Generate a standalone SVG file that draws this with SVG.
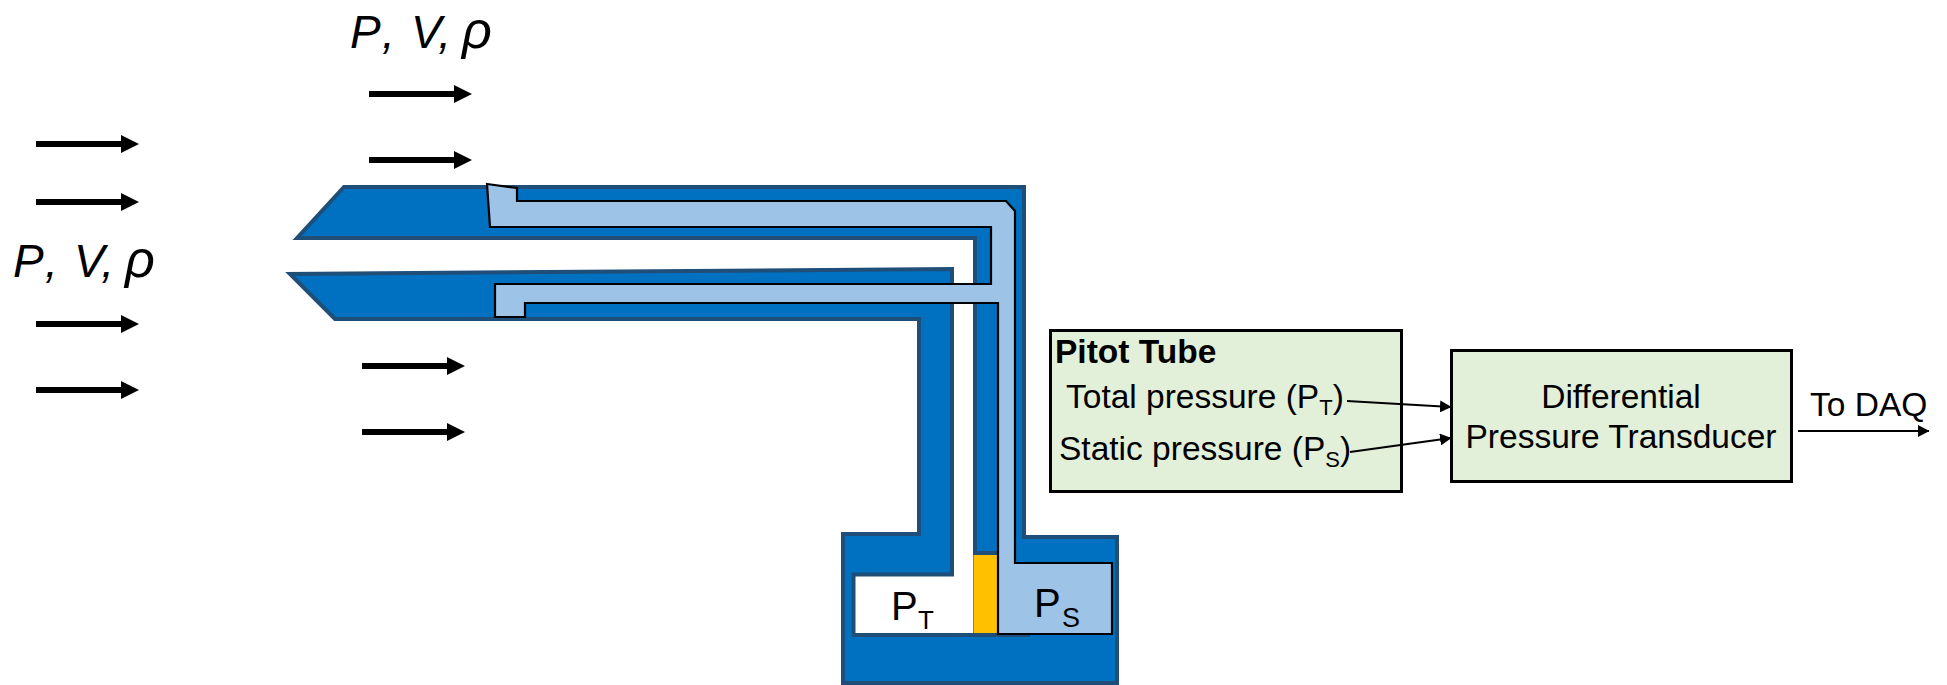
<svg xmlns="http://www.w3.org/2000/svg" width="1947" height="685" viewBox="0 0 1947 685">
<defs>
<style>
text{font-family:"Liberation Sans",Arial,sans-serif;fill:#000}
.flow{font-family:"Liberation Sans",Arial,sans-serif;font-style:italic;font-size:46px}
.rho{font-size:52px}
.lab{font-size:33.500px}
.box{fill:#E2F0D9;stroke:#000;stroke-width:3}
.body{fill:#0070C0;stroke:#1F4E79;stroke-width:4}
.wire{fill:none;stroke:#000;stroke-width:2.2;marker-end:url(#tip)}
</style>
<marker id="tip" markerUnits="userSpaceOnUse" markerWidth="12" markerHeight="12" refX="11" refY="6" orient="auto"><path d="M0 0L11.500 6L0 12Z" fill="#000"/></marker>
<path id="block" d="M0 -3H85V-9L103 0L85 9V3H0Z" fill="#000"/>
</defs>
<rect width="1947" height="685" fill="#fff"/>
<g id="probe">
<polygon class="body" points="297,238 344,187 1024,187 1024,537 1117,537 1117,683 843,683 843,534 919,534 919,319 335,319 290,274 952,269 952,574.500 853.500,574.500 853.500,635 975,635 975,238"/>
<path d="M975 553H997M975 635H1030" fill="none" stroke="#1F4E79" stroke-width="4"/>
<rect x="973.500" y="555" width="24" height="78" fill="#FFC000"/>
<polygon points="487,184 517,188 517,201 1006,201 1015,211 1015,563 1112,563 1112,634 998,634 998,303 525,303 525,317 495,317 495,284 991,284 991,227 490,227" fill="#9DC3E6" stroke="#000" stroke-width="2.200"/>
</g>
<g id="gauge-labels">
<text x="891" y="620" font-size="40">P</text><text x="918" y="629" font-size="26">T</text>
<text x="1034" y="617" font-size="40">P</text><text x="1062" y="627" font-size="27">S</text>
</g>
<g id="flow-arrows">
<use href="#block" x="36" y="144"/><use href="#block" x="36" y="202"/>
<use href="#block" x="36" y="324"/><use href="#block" x="36" y="390"/>
<use href="#block" x="369" y="94"/><use href="#block" x="369" y="160"/>
<use href="#block" x="362" y="366"/><use href="#block" x="362" y="432"/>
</g>
<g id="flow-labels">
<text class="flow" y="48"><tspan x="350">P</tspan> <tspan x="382">,</tspan> <tspan x="411">V,</tspan> <tspan class="rho" x="462">ρ</tspan></text>
<text class="flow" y="277"><tspan x="13">P</tspan> <tspan x="45">,</tspan> <tspan x="74">V,</tspan> <tspan class="rho" x="125">ρ</tspan></text>
</g>
<g id="pitot-tube">
<rect class="box" x="1050.500" y="330.500" width="351" height="161"/>
<text class="lab" x="1055" y="363" font-weight="bold">Pitot Tube</text>
<text class="lab" x="1066" y="408">Total pressure (P<tspan font-size="22" dy="7">T</tspan><tspan dy="-7">)</tspan></text>
<text class="lab" x="1059" y="460">Static pressure (P<tspan font-size="22" dy="7">S</tspan><tspan dy="-7">)</tspan></text>
</g>
<g id="transducer">
<rect class="box" x="1451.500" y="350.500" width="340" height="131"/>
<text class="lab" x="1621" y="408" text-anchor="middle">Differential</text>
<text class="lab" x="1621" y="448" text-anchor="middle">Pressure Transducer</text>
</g>
<g id="connectors">
<line class="wire" x1="1347" y1="401" x2="1451" y2="407"/>
<line class="wire" x1="1350" y1="452" x2="1451" y2="438"/>
<line class="wire" x1="1798" y1="431" x2="1929" y2="431"/>
</g>
<text class="lab" x="1810" y="416">To DAQ</text>
</svg>
